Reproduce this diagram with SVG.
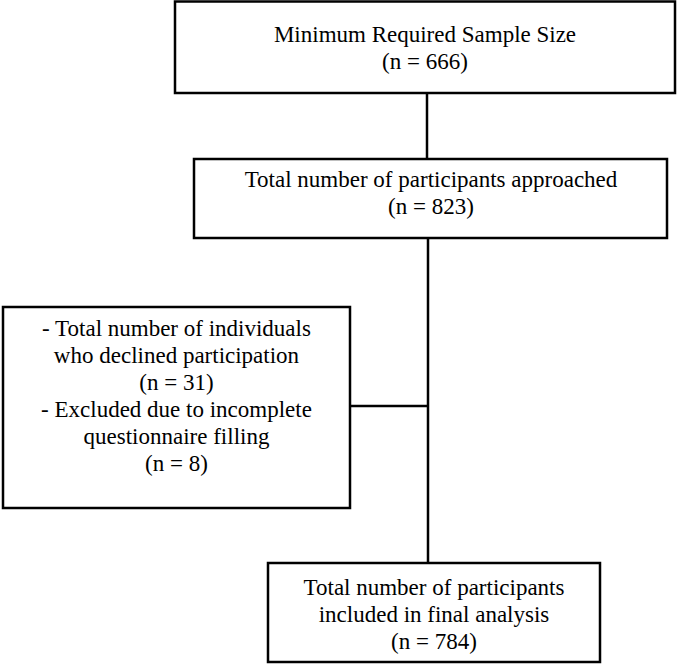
<svg xmlns="http://www.w3.org/2000/svg" width="677" height="664" viewBox="0 0 677 664">
  <style>
    .box { fill: #ffffff; stroke: #000000; stroke-width: 2.5; }
    .lbl { font-size: 23px; fill: #000000; text-anchor: middle; }
    .conn { stroke: #000000; stroke-width: 2.5; fill: none; }
  </style>
  <rect width="677" height="664" fill="#ffffff"/>

  <!-- connectors -->
  <g id="connectors">
    <line class="conn" x1="427" y1="93" x2="427" y2="159"/>
    <line class="conn" x1="428" y1="238" x2="428" y2="563"/>
    <line class="conn" x1="350" y1="406" x2="428" y2="406"/>
  </g>

  <g font-family="'Liberation Serif', 'DejaVu Serif', serif">
  <g id="sample-size">
    <rect class="box" x="175" y="1.5" width="500" height="91.5"/>
    <text class="lbl" x="425" y="42">Minimum Required Sample Size</text>
    <text class="lbl" x="425" y="69">(n = 666)</text>
  </g>

  <g id="approached">
    <rect class="box" x="194" y="159" width="473" height="79"/>
    <text class="lbl" x="431" y="187">Total number of participants approached</text>
    <text class="lbl" x="431" y="214">(n = 823)</text>
  </g>

  <g id="excluded">
    <rect class="box" x="3" y="307" width="347" height="201"/>
    <text class="lbl" x="176.5" y="336">- Total number of individuals</text>
    <text class="lbl" x="176.5" y="363">who declined participation</text>
    <text class="lbl" x="176.5" y="390">(n = 31)</text>
    <text class="lbl" x="176.5" y="417">- Excluded due to incomplete</text>
    <text class="lbl" x="176.5" y="444">questionnaire filling</text>
    <text class="lbl" x="176.5" y="471">(n = 8)</text>
  </g>

  <g id="final-analysis">
    <rect class="box" x="268" y="563" width="332" height="99"/>
    <text class="lbl" x="434" y="595">Total number of participants</text>
    <text class="lbl" x="434" y="622">included in final analysis</text>
    <text class="lbl" x="434" y="649">(n = 784)</text>
  </g>
  </g>
</svg>
